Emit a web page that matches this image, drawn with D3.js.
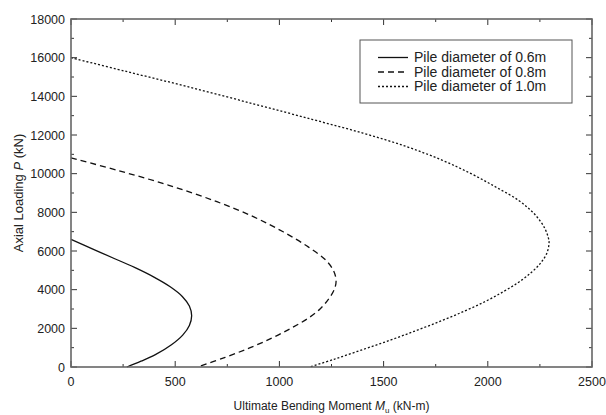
<!DOCTYPE html>
<html>
<head>
<meta charset="utf-8">
<script src="https://cdn.jsdelivr.net/npm/d3@7"></script>
<style>
html,body{margin:0;padding:0;background:#fff;}
svg{display:block;font-family:"Liberation Sans",Arial,sans-serif;}
</style>
</head>
<body>
<svg id="chart" width="606" height="415"></svg>
<script>
// Data: [M (kN-m), P (kN)], ordered from top (high P) to bottom
const pile06 = [[0,6600],[105,6100],[210,5600],[305,5150],[398,4650],[476,4150],[534,3650],[568,3150],[579,2650],[568,2150],[536,1650],[482,1150],[407,650],[336,300],[268,0]];
const pile08 = [[0,10820],[230,10150],[470,9400],[700,8550],[880,7750],[1020,6980],[1140,6200],[1225,5500],[1261,4950],[1272,4450],[1263,4000],[1235,3500],[1195,3000],[1135,2500],[1055,2000],[965,1500],[860,1000],[740,500],[607,0]];
const pile10 = [[0,16000],[260,15300],[560,14500],[880,13600],[1160,12800],[1400,12100],[1610,11400],[1780,10700],[1920,10000],[2040,9300],[2150,8600],[2225,7900],[2272,7200],[2290,6700],[2294,6450],[2284,5900],[2255,5400],[2210,4900],[2150,4400],[2075,3900],[1990,3400],[1890,2900],[1780,2400],[1660,1900],[1535,1400],[1400,900],[1262,400],[1145,0]];
const seriesNames = ["Pile diameter of 0.6m","Pile diameter of 0.8m","Pile diameter of 1.0m"];
const xTicks = [0,500,1000,1500,2000,2500];
const xMinor = [250,750,1250,1750,2250];
const yTicks = [0,2000,4000,6000,8000,10000,12000,14000,16000,18000];
const yMinor = [1000,3000,5000,7000,9000,11000,13000,15000,17000];

const svg = d3.select("#chart");
const L = 71, R = 592, T = 19, B = 367;
const x = d3.scaleLinear().domain([0,2500]).range([L,R]);
const y = d3.scaleLinear().domain([0,18000]).range([B,T]);
const txt = "#222";

// curves
const dashes = [null, "6,4", "2,2"];
const line = d3.line().x(d=>x(d[0])).y(d=>y(d[1])).curve(d3.curveCatmullRom.alpha(0.5));
[pile06, pile08, pile10].forEach((s,i)=>{
  svg.append("path").attr("d", line(s)).attr("fill","none").attr("stroke","#111")
    .attr("stroke-width",1.3).attr("stroke-dasharray", dashes[i]);
});

// ticks (inward, all four sides)
const tg = svg.append("g").attr("stroke","#333").attr("stroke-width",1);
function vt(v, len){
  tg.append("line").attr("x1",x(v)).attr("x2",x(v)).attr("y1",B).attr("y2",B-len);
  tg.append("line").attr("x1",x(v)).attr("x2",x(v)).attr("y1",T).attr("y2",T+len);
}
function ht(v, len){
  tg.append("line").attr("y1",y(v)).attr("y2",y(v)).attr("x1",L).attr("x2",L+len);
  tg.append("line").attr("y1",y(v)).attr("y2",y(v)).attr("x1",R).attr("x2",R-len);
}
xTicks.forEach(v=>vt(v,6)); xMinor.forEach(v=>vt(v,3));
yTicks.forEach(v=>ht(v,6)); yMinor.forEach(v=>ht(v,3));

// frame
svg.append("rect").attr("x",L).attr("y",T).attr("width",R-L).attr("height",B-T)
  .attr("fill","none").attr("stroke","#666").attr("stroke-width",1.6);

// tick labels
svg.append("g").selectAll("text").data(xTicks).join("text")
  .attr("x",d=>x(d)).attr("y",B+19).attr("text-anchor","middle")
  .attr("font-size",12.5).attr("fill",txt).text(d=>d);
svg.append("g").selectAll("text").data(yTicks).join("text")
  .attr("x",L-6).attr("y",d=>y(d)+4.5).attr("text-anchor","end")
  .attr("font-size",12.5).attr("fill",txt).text(d=>d);

// axis titles
const xt = svg.append("text").attr("x",(L+R)/2).attr("y",410).attr("text-anchor","middle")
  .attr("font-size",12).attr("fill",txt);
xt.append("tspan").text("Ultimate Bending Moment ");
xt.append("tspan").attr("font-style","italic").text("M");
xt.append("tspan").attr("font-size",8).attr("dy",3).text("u");
xt.append("tspan").attr("dy",-3).text(" (kN-m)");

const yt = svg.append("text").attr("transform",`translate(23,${(T+B)/2}) rotate(-90)`)
  .attr("text-anchor","middle").attr("font-size",13).attr("fill",txt);
yt.append("tspan").text("Axial Loading ");
yt.append("tspan").attr("font-style","italic").text("P");
yt.append("tspan").text(" (kN)");

// legend
const lg = svg.append("g");
lg.append("rect").attr("x",360).attr("y",40).attr("width",212).attr("height",63)
  .attr("fill","#fff").attr("stroke","#555").attr("stroke-width",1);
seriesNames.forEach((n,i)=>{
  const yy = 57.5 + i*14.5;
  lg.append("line").attr("x1",378).attr("x2",408).attr("y1",yy).attr("y2",yy)
    .attr("stroke","#111").attr("stroke-width",1.3).attr("stroke-dasharray",dashes[i]);
  lg.append("text").attr("x",414).attr("y",yy+4.5).attr("font-size",14).attr("fill",txt).text(n);
});
</script>
</body>
</html>
